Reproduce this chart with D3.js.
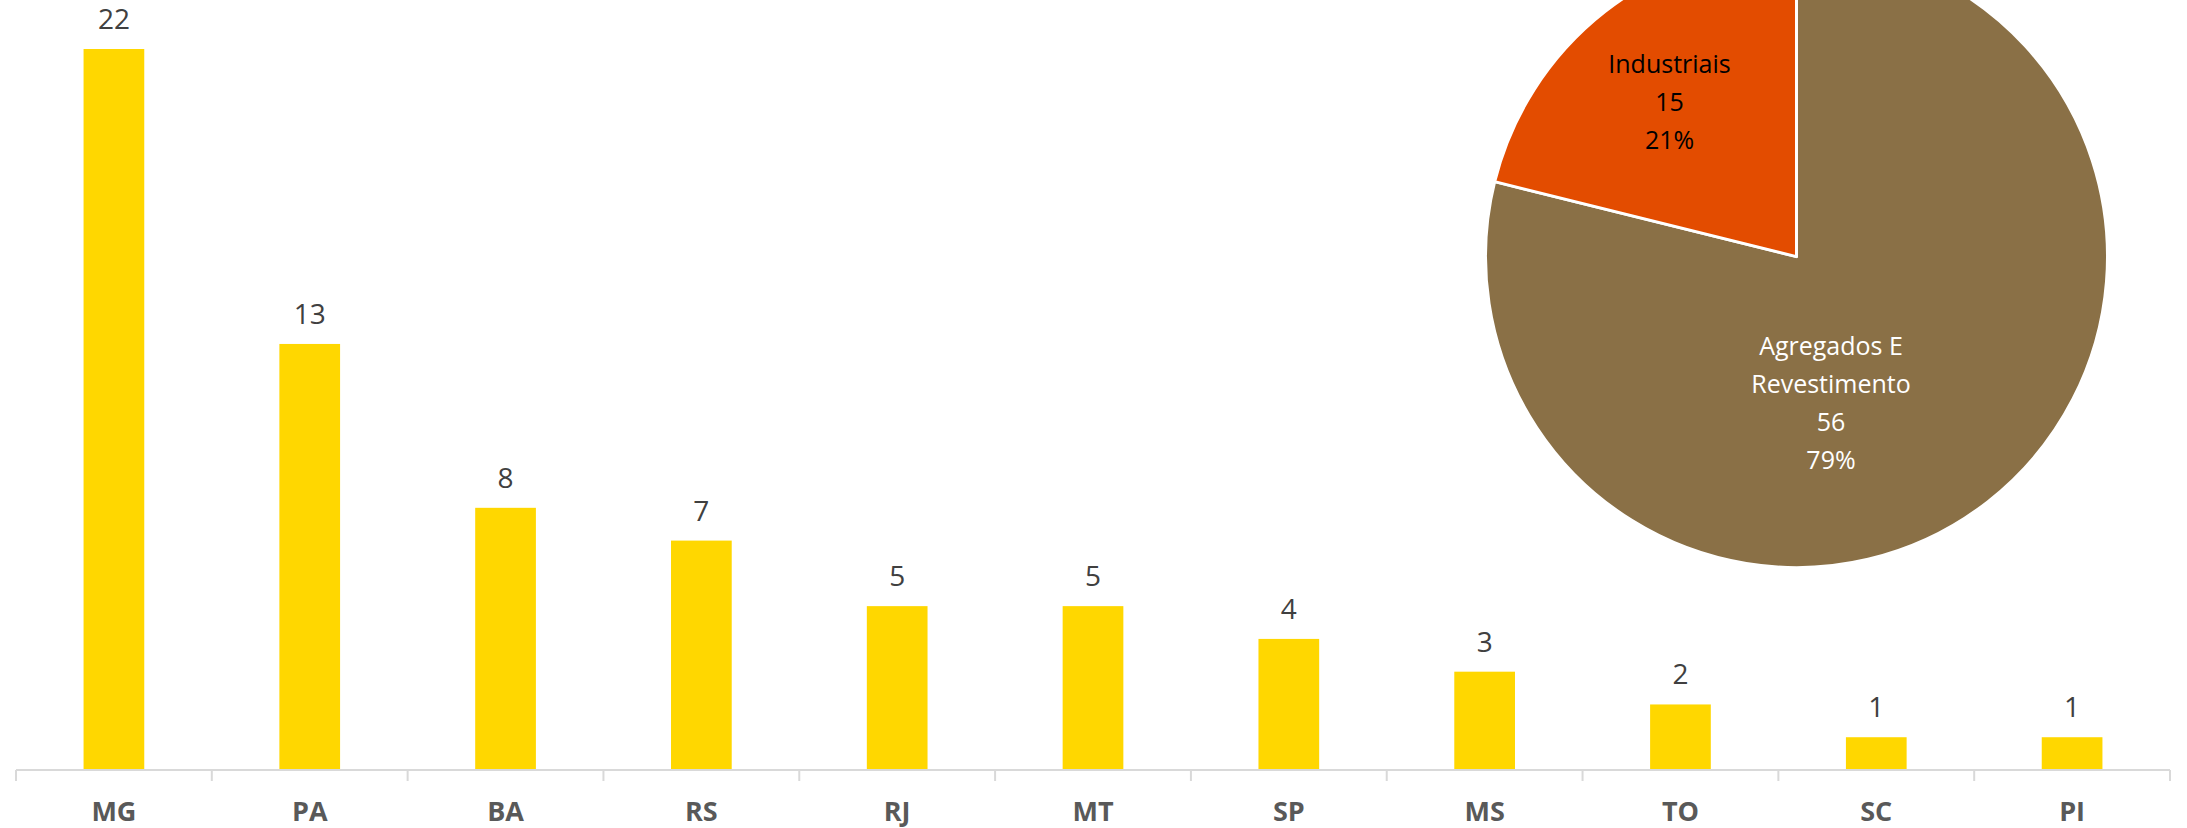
<!DOCTYPE html>
<html><head><meta charset="utf-8">
<script src="https://cdn.jsdelivr.net/npm/d3@7"></script>
<style>
html,body{margin:0;padding:0;background:#fff;}
svg{display:block;}
</style></head>
<body>
<svg id="chart" width="2187" height="828"></svg>
<script>
const categories = ["MG","PA","BA","RS","RJ","MT","SP","MS","TO","SC","PI"];
const barValues = [22,13,8,7,5,5,4,3,2,1,1];
const pieLabels = ["Agregados E Revestimento","Industriais"];
const pieLines = [["Agregados E","Revestimento"],["Industriais"]];
const pieValues = [56,15];
const piePercents = ["79%","21%"];
const pieColors = ["#8A7046","#E34C00"];
const pieTextColors = ["#ffffff","#000000"];

const svg = d3.select("#chart");

// bar chart
const x = d3.scaleBand().domain(categories).range([16, 2170]).paddingInner(0).paddingOuter(0);
const y = d3.scaleLinear().domain([0, 22]).range([770, 49]);
const barW = x.bandwidth() * 0.31;

const gBars = svg.append("g");
gBars.selectAll("rect").data(categories).join("rect")
  .attr("x", (d) => x(d) + x.bandwidth()/2 - barW/2)
  .attr("y", (d,i) => y(barValues[i]))
  .attr("width", barW)
  .attr("height", (d,i) => y(0) - y(barValues[i]))
  .attr("fill", "#FFD700");

gBars.selectAll("text.val").data(categories).join("text")
  .attr("class","val")
  .attr("x", (d) => x(d) + x.bandwidth()/2)
  .attr("y", (d,i) => y(barValues[i]) - 20)
  .attr("text-anchor","middle")
  .attr("font-family","'Open Sans', sans-serif")
  .attr("font-size", 28)
  .attr("fill","#404040")
  .text((d,i) => barValues[i]);

// axis
const axisG = svg.append("g").attr("transform","translate(0,770)");
axisG.append("line").attr("x1",16).attr("x2",2170).attr("y1",0).attr("y2",0)
  .attr("stroke","#d9d9d9").attr("stroke-width",2);
const tickPos = categories.map(c => x(c)).concat([x.range()[1]]);
axisG.selectAll("line.tick").data(tickPos).join("line")
  .attr("class","tick")
  .attr("x1", d=>d).attr("x2", d=>d).attr("y1",0).attr("y2",11)
  .attr("stroke","#d9d9d9").attr("stroke-width",2);
axisG.selectAll("text.cat").data(categories).join("text")
  .attr("class","cat")
  .attr("x", d => x(d) + x.bandwidth()/2)
  .attr("y", 51)
  .attr("text-anchor","middle")
  .attr("font-family","'Open Sans', sans-serif")
  .attr("font-weight","bold")
  .attr("font-size", 27)
  .attr("fill","#595959")
  .text(d => d);

// pie
const cx = 1796.5, cy = 256.6, R = 311;
const pie = d3.pie().sort(null).value(d => d)(pieValues);
const arc = d3.arc().innerRadius(0).outerRadius(R);
const gPie = svg.append("g").attr("transform",`translate(${cx},${cy})`);
gPie.selectAll("path").data(pie).join("path")
  .attr("d", arc)
  .attr("fill", (d,i) => pieColors[i])
  .attr("stroke","#fff").attr("stroke-width",3).attr("stroke-linejoin","round");

const labelPos = [[34.5, 90], [-127, -192.6]];
const lineH = 38;
pie.forEach((p,i) => {
  const lines = pieLines[i].concat([String(pieValues[i]), piePercents[i]]);
  const t = gPie.append("text")
    .attr("text-anchor","middle")
    .attr("font-family","'Open Sans', sans-serif")
    .attr("font-size", 25)
    .attr("fill", pieTextColors[i]);
  lines.forEach((l,j) => {
    t.append("tspan").attr("x", labelPos[i][0]).attr("y", labelPos[i][1] + j*lineH).attr("dy","0.35em").text(l);
  });
});
</script>
</body></html>
